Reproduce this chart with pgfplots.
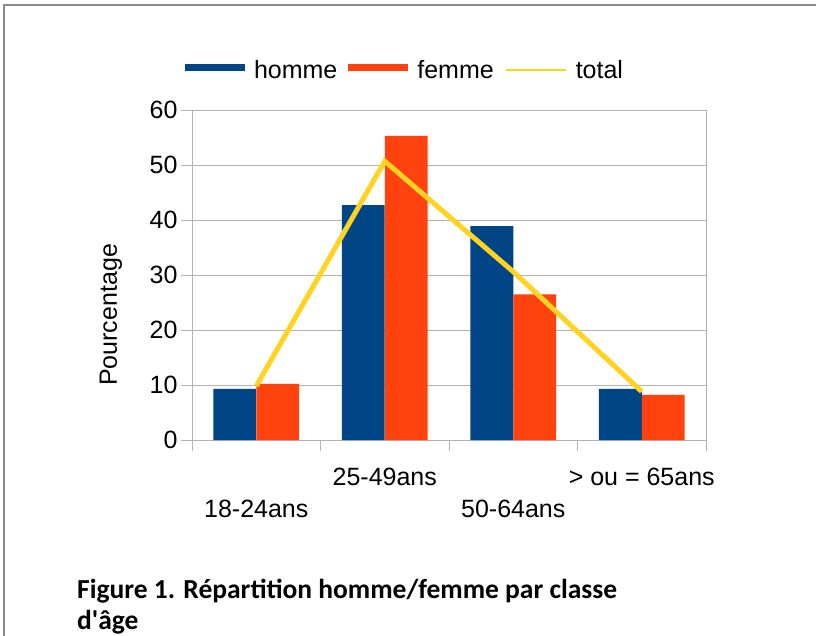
\documentclass[border=0pt]{standalone}
\usepackage{pgfplots}
\pgfplotsset{compat=1.18}
\usepackage{fontspec}
\setmainfont{Liberation Sans}
\newfontfamily\capfont[Ligatures=TeXOff]{Carlito}
\definecolor{cblue}{HTML}{004586}
\definecolor{cred}{HTML}{FF420E}
\definecolor{cyel}{HTML}{FFD320}
\definecolor{cgrid}{HTML}{B3B3B3}
\definecolor{cframe}{HTML}{8C8C8C}
\begin{document}
\begin{tikzpicture}
\useasboundingbox (0,0) rectangle (816bp,-636bp);
\fill[white] (0,0) rectangle (816bp,-636bp);
\draw[cframe, line width=2bp] (4bp,-636bp) -- (4bp,-5bp) -- (816bp,-5bp);
\begin{axis}[
  at={(192bp,-440bp)}, anchor=south west,
  scale only axis, width=514bp, height=330bp,
  xmin=-0.5, xmax=3.5, ymin=0, ymax=60,
  ytick={0,10,...,60},
  xtick={-0.5,0.5,1.5,2.5,3.5}, xticklabels={},
  extra x ticks={0,1,2,3},
  extra x tick labels={\raisebox{-32bp}{18-24ans},25-49ans,\raisebox{-32bp}{50-64ans},{> ou = 65ans}},
  extra x tick style={major tick length=0pt, xmajorgrids=false,
     tick label style={anchor=base, yshift=-45bp}},
  tick pos=left, tick align=outside,
  major tick length=11bp,
  axis line style={cgrid, line width=1bp},
  major tick style={cgrid, line width=1bp},
  ymajorgrids, grid style={cgrid, line width=1bp},
  tick label style={font=\fontsize{25bp}{29bp}\selectfont, text=black},
  /pgf/number format/assume math mode=true,
  ylabel={Pourcentage},
  ylabel style={font=\fontsize{25bp}{29bp}\selectfont, at={(axis description cs:-0.158,0.379)}, anchor=center},
  legend columns=3,
  legend style={at={(axis description cs:-0.0136,1.121)}, anchor=west, draw=none, fill=none,
    inner sep=0pt, outer sep=0pt,
    font=\fontsize{25bp}{29bp}\selectfont,
    nodes={inner sep=0pt},
    /tikz/every odd column/.style={column sep=9bp},
    /tikz/every even column/.style={column sep=11bp}},
]
\addplot[ybar, fill=cblue, draw=none, bar width=0.3333, bar shift=-0.16667,
  legend image code/.code={\fill[cblue] (0bp,-1bp) rectangle (60bp,6.5bp);}]
  coordinates {(0,9.3) (1,42.7) (2,38.9) (3,9.3)};
\addlegendentry{homme}
\addplot[ybar, fill=cred, draw=none, bar width=0.3333, bar shift=0.16667,
  legend image code/.code={\fill[cred] (0bp,-1bp) rectangle (60bp,6.5bp);}]
  coordinates {(0,10.2) (1,55.3) (2,26.5) (3,8.2)};
\addlegendentry{femme}
\addplot[cyel, line width=5bp, sharp plot, mark=none,
  legend image code/.code={\draw[cyel, line width=2bp] (0bp,0bp) -- (60bp,0bp);}]
  coordinates {(0,9.8) (1,50.7) (2,30.6) (3,8.8)};
\addlegendentry{total}
\end{axis}
\node[anchor=base west, font=\capfont\bfseries\fontsize{27.5bp}{32bp}\selectfont, inner sep=0pt] at (77bp,-598bp) {Figure 1. Répartition homme/femme par classe};
\node[anchor=base west, font=\capfont\bfseries\fontsize{27.5bp}{32bp}\selectfont, inner sep=0pt] at (77bp,-629bp) {d'âge};
\end{tikzpicture}
\end{document}
